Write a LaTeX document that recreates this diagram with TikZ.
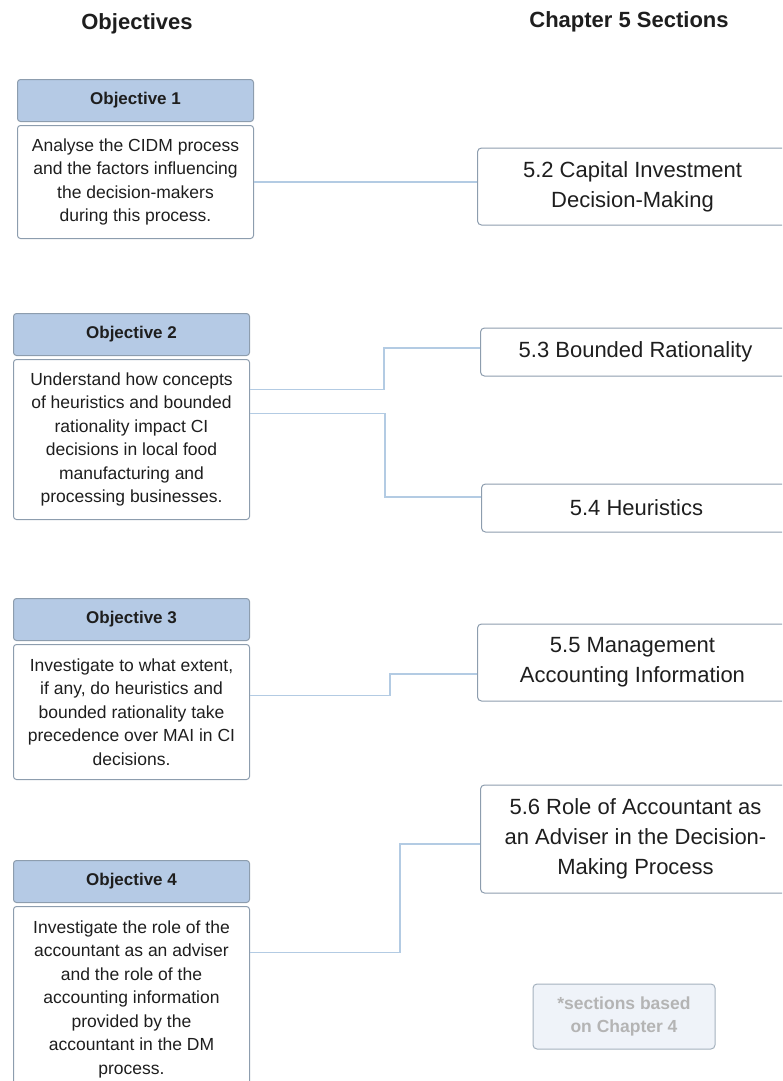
\documentclass[tikz,border=0pt]{standalone}
\usepackage{fontspec}
\setmainfont{Liberation Sans}
\usetikzlibrary{positioning}
\definecolor{hdrblue}{HTML}{B5CAE5}
\definecolor{boxedge}{HTML}{8D9DAE}
\definecolor{linkblue}{HTML}{B3CBE3}
\definecolor{notefill}{HTML}{EFF3F9}
\definecolor{notetext}{HTML}{B4B4B4}
\definecolor{ink}{HTML}{1E1E1E}

\begin{document}
\begin{tikzpicture}[x=1pt, y=-1pt, text=ink,
  objhead/.style={draw=boxedge, fill=hdrblue, rounded corners=3pt, line width=1pt, minimum width=236pt, minimum height=42pt, inner sep=2pt, font=\bfseries\fontsize{17}{20}\selectfont, anchor=north west},
  objbody/.style={draw=boxedge, rounded corners=3pt, line width=1pt, minimum width=236pt, inner sep=2pt, align=center, font=\fontsize{17.5}{23.5}\selectfont},
  secbox/.style={draw=boxedge, rounded corners=4pt, line width=1pt, minimum width=310pt, inner sep=2pt, align=center, font=\fontsize{22}{30}\selectfont, anchor=west},
  notebox/.style={draw=boxedge!80, fill=notefill, rounded corners=4pt, line width=1pt, minimum width=182pt, minimum height=65pt, align=center, text=notetext, font=\bfseries\fontsize{17.5}{23}\selectfont},
  link/.style={draw=linkblue, line width=1.2pt},
  title/.style={font=\bfseries\fontsize{22}{26}\selectfont}]
\useasboundingbox (0,0) rectangle (782,1081);
\clip (0,0) rectangle (782,1081);

\node[title] (objtitle) at (137,24) {Objectives};
\node[title] (sectitle) at (629,22) {Chapter 5 Sections};

% objectives
\node[objhead] (head1) at (17,79) {Objective 1};
\node[objbody, minimum height=113pt, below=3pt of head1] (body1) {Analyse the CIDM process\\and the factors influencing\\the decision-makers\\during this process.};
\node[objhead] (head2) at (13,313) {Objective 2};
\node[objbody, minimum height=160pt, below=3pt of head2] (body2) {Understand how concepts\\of heuristics and bounded\\rationality impact CI\\decisions in local food\\manufacturing and\\processing businesses.};
\node[objhead] (head3) at (13,598) {Objective 3};
\node[objbody, minimum height=135pt, below=3pt of head3] (body3) {Investigate to what extent,\\if any, do heuristics and\\bounded rationality take\\precedence over MAI in CI\\decisions.};
\node[objhead] (head4) at (13,860) {Objective 4};
\node[objbody, minimum height=185pt, below=3pt of head4] (body4) {Investigate the role of the\\accountant as an adviser\\and the role of the\\accounting information\\provided by the\\accountant in the DM\\process.};

% sections
\node[secbox, minimum height=77pt] (sec52) at (477,186.5) {5.2 Capital Investment\\Decision-Making};
\node[secbox, minimum height=48pt] (sec53) at (480,352) {5.3 Bounded Rationality};
\node[secbox, minimum height=48pt] (sec54) at (481,508) {5.4 Heuristics};
\node[secbox, minimum height=77pt] (sec55) at (477,662.5) {5.5 Management\\Accounting Information};
\node[secbox, minimum height=108pt] (sec56) at (480,839) {5.6 Role of Accountant as\\an Adviser in the Decision-\\Making Process};

\node[notebox] (note) at (624,1016.5) {*sections based\\on Chapter 4};

% links
\draw[link] (body1.east) -- (body1.east -| sec52.west);
\draw[link] ([yshift=50pt]body2.east) -- ++(134pt,0) |- ([yshift=4pt]sec53.west);
\draw[link] ([yshift=26pt]body2.east) -- ++(135pt,0) |- ([yshift=11pt]sec54.west);
\draw[link] ([yshift=16.5pt]body3.east) -- ++(140pt,0) |- ([yshift=-11.5pt]sec55.west);
\draw[link] ([yshift=46.5pt]body4.east) -- ++(150pt,0) |- ([yshift=-5pt]sec56.west);
\end{tikzpicture}
\end{document}
